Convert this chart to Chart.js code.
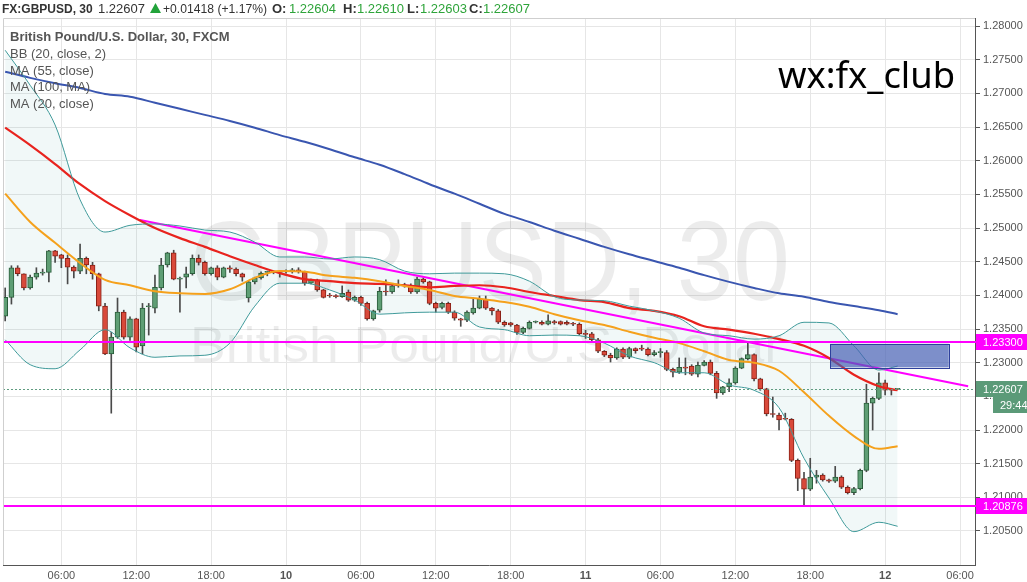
<!DOCTYPE html>
<html>
<head>
<meta charset="utf-8">
<title>GBPUSD 30</title>
<script src="https://cdn.jsdelivr.net/npm/chart.js@4.4.1/dist/chart.umd.min.js"></script>
<style>
  html, body { margin: 0; padding: 0; background: #fff; overflow: hidden; }
  canvas { display: block; }
</style>
</head>
<body>
<canvas id="myChart" width="1027" height="582"></canvas>
<script>

// 30 min candles, first bar 9th 01:30, last bar 12th 01:00
var opens = [1.2369,1.2397,1.2441,1.2432,1.2411,1.2427,1.2433,1.2434,1.2466,1.2460,
  1.2455,1.2442,1.2436,1.2455,1.2445,1.2432,1.2384,1.2313,1.2338,1.2375,
  1.2338,1.2365,1.2325,1.2383,1.2381,1.2411,1.2445,1.2463,1.2424,1.2427,
  1.2432,1.2455,1.2449,1.2432,1.2441,1.2427,1.2441,1.2439,1.2432,1.2396,
  1.2420,1.2426,1.2434,1.2435,1.2434,1.2435,1.2435,1.2438,1.2435,1.2418,
  1.2423,1.2408,1.2400,1.2399,1.2398,1.2405,1.2393,1.2397,1.2388,1.2365,
  1.2378,1.2406,1.2405,1.2414,1.2415,1.2414,1.2405,1.2424,1.2420,1.2388,
  1.2382,1.2388,1.2375,1.2365,1.2363,1.2374,1.2381,1.2394,1.2381,1.2377,
  1.2360,1.2359,1.2356,1.2345,1.2351,1.2360,1.2360,1.2357,1.2361,1.2361,
  1.2360,1.2358,1.2357,1.2343,1.2343,1.2334,1.2317,1.2311,1.2307,1.2320,
  1.2308,1.2321,1.2321,1.2320,1.2312,1.2315,1.2315,1.2290,1.2286,1.2293,
  1.2295,1.2283,1.2296,1.2301,1.2284,1.2255,1.2264,1.2270,1.2292,1.2306,
  1.2312,1.2276,1.2261,1.2224,1.2222,1.2217,1.2216,1.2155,1.2128,1.2112,
  1.2130,1.2133,1.2126,1.2124,1.2130,1.2115,1.2107,1.2113,1.2140,1.2240,
  1.2247,1.2270,1.2260,1.22604];
var highs = [1.2411,1.2444,1.2444,1.2432,1.2430,1.2441,1.2439,1.2467,1.2467,1.2461,
  1.2460,1.2444,1.2476,1.2457,1.2449,1.2433,1.2388,1.2345,1.2396,1.2378,
  1.2368,1.2366,1.2388,1.2388,1.2430,1.2455,1.2464,1.2467,1.2427,1.2442,
  1.2460,1.2460,1.2451,1.2442,1.2444,1.2442,1.2444,1.2441,1.2433,1.2421,
  1.2427,1.2435,1.2436,1.2436,1.2436,1.2438,1.2440,1.2441,1.2436,1.2424,
  1.2424,1.2409,1.2403,1.2401,1.2414,1.2408,1.2399,1.2399,1.2390,1.2378,
  1.2412,1.2423,1.2418,1.2423,1.2418,1.2417,1.2427,1.2426,1.2421,1.2390,
  1.2390,1.2390,1.2377,1.2366,1.2377,1.2396,1.2399,1.2399,1.2382,1.2379,
  1.2362,1.2360,1.2357,1.2353,1.2362,1.2362,1.2362,1.2371,1.2363,1.2362,
  1.2362,1.2360,1.2359,1.2348,1.2345,1.2336,1.2318,1.2314,1.2322,1.2322,
  1.2323,1.2322,1.2326,1.2322,1.2318,1.2321,1.2318,1.2292,1.2307,1.2307,
  1.2297,1.2301,1.2303,1.2304,1.2287,1.2265,1.2276,1.2294,1.2307,1.2330,
  1.2313,1.2277,1.2262,1.2249,1.2225,1.2225,1.2217,1.2157,1.2137,1.2158,
  1.2140,1.2135,1.2127,1.2146,1.2132,1.2117,1.2115,1.2142,1.2268,1.2249,
  1.2285,1.2274,1.2262,1.22610];
var lows = [1.2362,1.2387,1.2429,1.2408,1.2409,1.2424,1.2430,1.2420,1.2449,1.2441,
  1.2417,1.2426,1.2432,1.2432,1.2424,1.2377,1.2312,1.2225,1.2336,1.2335,
  1.2333,1.2316,1.2313,1.2341,1.2374,1.2408,1.2442,1.2423,1.2375,1.2411,
  1.2430,1.2445,1.2430,1.2430,1.2423,1.2426,1.2434,1.2429,1.2421,1.2390,
  1.2417,1.2424,1.2429,1.2432,1.2427,1.2433,1.2433,1.2433,1.2415,1.2417,
  1.2406,1.2396,1.2397,1.2396,1.2397,1.2391,1.2391,1.2385,1.2363,1.2363,
  1.2375,1.2400,1.2403,1.2412,1.2412,1.2403,1.2403,1.2418,1.2386,1.2375,
  1.2380,1.2373,1.2363,1.2354,1.2361,1.2372,1.2380,1.2379,1.2371,1.2358,
  1.2354,1.2354,1.2342,1.2343,1.2350,1.2359,1.2356,1.2356,1.2357,1.2356,
  1.2356,1.2355,1.2341,1.2336,1.2331,1.2315,1.2309,1.2301,1.2305,1.2306,
  1.2306,1.2314,1.2318,1.2310,1.2310,1.2308,1.2288,1.2279,1.2284,1.2282,
  1.2281,1.2279,1.2295,1.2282,1.2247,1.2253,1.2257,1.2268,1.2291,1.2304,
  1.2273,1.2259,1.2221,1.2219,1.2200,1.2215,1.2153,1.2110,1.20876,1.2110,
  1.2121,1.2124,1.2122,1.2122,1.2113,1.2105,1.2104,1.2111,1.2138,1.2200,
  1.2245,1.2252,1.2252,1.22603];
var closes = [1.2397,1.2441,1.2432,1.2411,1.2427,1.2433,1.2434,1.2466,1.2458,1.2455,
  1.2442,1.2436,1.2455,1.2445,1.2432,1.2384,1.2313,1.2338,1.2375,1.2338,
  1.2365,1.2323,1.2381,1.2384,1.2412,1.2445,1.2463,1.2424,1.2425,1.2432,
  1.2455,1.2449,1.2432,1.2441,1.2427,1.2441,1.2439,1.2432,1.2427,1.2420,
  1.2426,1.2433,1.2435,1.2434,1.2435,1.2436,1.2438,1.2435,1.2418,1.2423,
  1.2408,1.2397,1.2399,1.2398,1.2403,1.2393,1.2397,1.2388,1.2365,1.2377,
  1.2406,1.2405,1.2414,1.2415,1.2414,1.2405,1.2424,1.2420,1.2388,1.2381,
  1.2388,1.2375,1.2366,1.2363,1.2375,1.2381,1.2394,1.2381,1.2377,1.2360,
  1.2356,1.2356,1.2345,1.2351,1.2360,1.2361,1.2357,1.2362,1.2359,1.2357,
  1.2357,1.2357,1.2343,1.2342,1.2334,1.2317,1.2311,1.2307,1.2320,1.2308,
  1.2321,1.2318,1.2320,1.2312,1.2315,1.2316,1.2290,1.2286,1.2293,1.2292,
  1.2283,1.2296,1.2301,1.2284,1.2255,1.2264,1.2270,1.2292,1.2306,1.2312,
  1.2276,1.2261,1.2224,1.2223,1.2215,1.2216,1.2155,1.2128,1.2112,1.2130,
  1.2133,1.2126,1.2124,1.2130,1.2115,1.2107,1.2113,1.2140,1.2240,1.2247,
  1.2270,1.2259,1.2259,1.22607];

// indicator lines (last point on the last bar)
var lineBars = [0,4,8,12,16,20,24,28,32,36,40,44,48,52,56,60,64,68,72,76,80,84,88,92,96,100,104,108,112,116,120,124,128,132,136,140,143];
var ma100 = [1.2732,1.2723,1.2715,1.2708,1.2699,1.2695,1.2686,1.2677,1.2668,1.2659,1.2649,1.2638,1.2628,1.2617,1.2605,1.2594,1.2580,1.2565,1.2551,1.2536,
  1.2521,1.2509,1.2496,1.2484,1.2472,1.2461,1.2451,1.2441,1.2430,1.2420,1.2411,1.2403,1.2398,1.2390,1.2384,1.2378,1.2372];
var ma55 = [1.2649,1.2623,1.2595,1.2565,1.2540,1.2519,1.2500,1.2485,1.2472,1.2458,1.2445,1.2433,1.2424,1.2421,1.2418,1.2417,1.2415,1.2412,1.2414,1.2415,
  1.2412,1.2405,1.2399,1.2393,1.2390,1.2381,1.2377,1.2369,1.2354,1.2349,1.2343,1.2335,1.2325,1.2307,1.2282,1.2265,1.2259];
var ma20 = [1.2551,1.2509,1.2478,1.2448,1.2423,1.2415,1.2406,1.2403,1.2402,1.2409,1.2426,1.2436,1.2435,1.2429,1.2426,1.2421,1.2414,1.2408,1.2399,1.2395,
  1.2390,1.2383,1.2372,1.2363,1.2356,1.2346,1.2337,1.2329,1.2317,1.2304,1.2300,1.2288,1.2256,1.2221,1.2191,1.2172,1.2176];
var bbUpper = [1.2764,1.2712,1.2653,1.2542,1.2494,1.2504,1.2506,1.2503,1.2497,1.2494,1.2479,1.2457,1.2457,1.2454,1.2457,1.2453,1.2436,1.2432,1.2433,1.2433,
  1.2432,1.2421,1.2398,1.2393,1.2392,1.2384,1.2377,1.2366,1.2344,1.2340,1.2335,1.2340,1.2360,1.2359,1.2325,1.2289,1.2295];
var bbLower = [1.2334,1.2297,1.2291,1.2319,1.2349,1.2322,1.2308,1.2310,1.2311,1.2329,1.2384,1.2418,1.2418,1.2408,1.2393,1.2372,1.2374,1.2375,1.2375,1.2353,
  1.2349,1.2340,1.2341,1.2340,1.2329,1.2310,1.2300,1.2285,1.2285,1.2267,1.2259,1.2233,1.2158,1.2099,1.2049,1.2063,1.2057];

// drawings on the chart
var levels = [1.23300, 1.20876];
var trendBars = [21.6, 154.3];
var trendPrices = [1.2512, 1.2265];
var zoneBars = [132.2, 151.2];
var zonePrices = [1.2293, 1.2328];

// axes
var xTickLabels = ['06:00','12:00','18:00','10','06:00','12:00','18:00','11','06:00','12:00','18:00','12','06:00'];
var firstTickBar = 9, barsPerTick = 12;
var yTicks = [1.205,1.21,1.215,1.22,1.225,1.23,1.235,1.24,1.245,1.25,1.255,1.26,1.265,1.27,1.275,1.28];

var FONT = '"Liberation Sans", Arial, sans-serif';
var last = closes.length - 1;

function pts(xs, ys) {
  return ys.map(function (v, k) { return { x: xs[k], y: v }; });
}

var bodies = [], wicks = [], fills = [], edges = [];
for (var i = 0; i < closes.length; i++) {
  var up = closes[i] >= opens[i];
  bodies.push({ x: i, y: [opens[i], closes[i]] });
  wicks.push({ x: i, y: [lows[i], highs[i]] });
  fills.push(up ? '#5e9e74' : '#d9493a');
  edges.push(up ? '#2b5d3b' : '#8a2116');
}

function fitText(c, text, font, x, y, width) {
  c.font = font;
  var w = c.measureText(text).width;
  c.save();
  c.translate(x, y);
  c.scale(width / w, 1);
  c.fillText(text, 0, 0);
  c.restore();
}

function axisBox(c, text, y, bg, x0) {
  c.fillStyle = bg;
  c.fillRect(x0, Math.round(y) - 8, 1027 - x0, 16);
  c.fillStyle = '#fff';
  c.font = '11px ' + FONT;
  c.textBaseline = 'middle';
  c.fillText(text, x0 + 7, Math.round(y) + 0.5);
}

var overlay = {
  id: 'overlay',
  beforeDatasetsDraw: function (chart) {
    var c = chart.ctx, a = chart.chartArea;
    c.save();
    c.beginPath();
    c.rect(a.left, a.top, a.right - a.left, a.bottom - a.top);
    c.clip();
    c.fillStyle = 'rgba(0,0,0,0.075)';
    c.textBaseline = 'alphabetic';
    fitText(c, 'GBPUSD, 30', '114px ' + FONT, 190, 300, 600);
    fitText(c, 'British Pound/U.S. Dollar', '50px ' + FONT, 190, 362, 592);
    c.restore();
  },
  afterDatasetsDraw: function (chart) {
    var c = chart.ctx, a = chart.chartArea, xs = chart.scales.x, ys = chart.scales.y;
    c.save();
    // last price line
    var yc = Math.round(ys.getPixelForValue(closes[last])) + 0.5;
    c.strokeStyle = '#5f9c80';
    c.lineWidth = 1;
    c.setLineDash([2, 2]);
    c.beginPath(); c.moveTo(a.left, yc); c.lineTo(a.right, yc); c.stroke();
    c.setLineDash([]);
    // horizontal levels
    c.strokeStyle = '#ff00ff';
    c.lineWidth = 2;
    levels.forEach(function (v) {
      var y = Math.round(ys.getPixelForValue(v));
      c.beginPath(); c.moveTo(a.left, y); c.lineTo(a.right + 5, y); c.stroke();
    });
    // zone rectangle
    var x0 = xs.getPixelForValue(zoneBars[0]), x1 = xs.getPixelForValue(zoneBars[1]);
    var y0 = ys.getPixelForValue(zonePrices[1]), y1 = ys.getPixelForValue(zonePrices[0]);
    c.fillStyle = 'rgba(70,95,180,0.7)';
    c.fillRect(x0, y0, x1 - x0, y1 - y0);
    c.strokeStyle = '#2e409c';
    c.lineWidth = 1;
    c.strokeRect(Math.round(x0) + 0.5, Math.round(y0) + 0.5, Math.round(x1 - x0), Math.round(y1 - y0));
    c.restore();
  },
  afterDraw: function (chart) {
    var c = chart.ctx, a = chart.chartArea, ys = chart.scales.y;
    c.save();
    // frame top and left
    c.strokeStyle = '#cfcfcf';
    c.lineWidth = 1;
    c.beginPath();
    c.moveTo(a.left + 0.5, a.bottom); c.lineTo(a.left + 0.5, a.top + 0.5); c.lineTo(a.right, a.top + 0.5);
    c.stroke();

    // header
    c.textBaseline = 'alphabetic';
    c.fillStyle = '#333';
    c.font = 'bold 12px ' + FONT;
    c.fillText('FX:GBPUSD, 30', 2, 13);
    c.font = '13px ' + FONT;
    c.fillText(closes[last].toFixed(5), 98, 13);
    c.fillStyle = '#22a33a';
    c.beginPath(); c.moveTo(150, 13); c.lineTo(161, 13); c.lineTo(155.5, 3); c.closePath(); c.fill();
    c.fillStyle = '#333';
    fitText(c, '+0.01418 (+1.17%)', '13px ' + FONT, 163, 13, 104);
    var ohlc = [['O:', opens[last], 272, 289], ['H:', highs[last], 343, 357], ['L:', lows[last], 407, 420], ['C:', closes[last], 469, 483]];
    ohlc.forEach(function (p) {
      c.font = 'bold 13px ' + FONT;
      c.fillStyle = '#333';
      c.fillText(p[0], p[2], 13);
      c.font = '13px ' + FONT;
      c.fillStyle = '#2ea43a';
      c.fillText(p[1].toFixed(5), p[3], 13);
    });

    // legend
    c.fillStyle = '#555';
    c.font = 'bold 13px ' + FONT;
    c.fillText('British Pound/U.S. Dollar, 30, FXCM', 10, 41);
    c.font = '13px ' + FONT;
    c.fillText('BB (20, close, 2)', 10, 58);
    c.fillText('MA (55, close)', 10, 75);
    c.fillText('MA (100, MA)', 10, 91);
    c.fillText('MA (20, close)', 10, 108);

    // tag
    c.fillStyle = '#000';
    fitText(c, 'wx:fx_club', '37px "Noto Sans", ' + FONT, 778, 88, 177);

    // price boxes on the axis
    levels.forEach(function (v) {
      axisBox(c, v.toFixed(5), ys.getPixelForValue(v), '#ff00ff', a.right + 1);
    });
    var yc = ys.getPixelForValue(closes[last]);
    axisBox(c, closes[last].toFixed(5), yc, '#5b9a78', a.right + 1);
    axisBox(c, '29:44', yc + 16, '#5b9a78', a.right + 18);
    c.restore();
  }
};

var ctx = document.getElementById('myChart').getContext('2d');

var chart = new Chart(ctx, {
  type: 'bar',
  data: {
    datasets: [
      { type: 'line', label: 'BB upper', data: pts(lineBars, bbUpper), borderColor: '#3f9a9a', borderWidth: 1,
        pointRadius: 0, cubicInterpolationMode: 'monotone', fill: '+1', backgroundColor: 'rgba(60,160,160,0.07)', order: 0 },
      { type: 'line', label: 'BB lower', data: pts(lineBars, bbLower), borderColor: '#3f9a9a', borderWidth: 1,
        pointRadius: 0, cubicInterpolationMode: 'monotone', fill: false, order: 0 },
      { type: 'line', label: 'MA 20', data: pts(lineBars, ma20), borderColor: '#f5a11c', borderWidth: 2,
        pointRadius: 0, cubicInterpolationMode: 'monotone', fill: false, order: 0 },
      { type: 'line', label: 'MA 55', data: pts(lineBars, ma55), borderColor: '#e8231e', borderWidth: 2.2,
        pointRadius: 0, cubicInterpolationMode: 'monotone', fill: false, order: 0 },
      { type: 'line', label: 'MA 100', data: pts(lineBars, ma100), borderColor: '#3a56b0', borderWidth: 2,
        pointRadius: 0, cubicInterpolationMode: 'monotone', fill: false, order: 0 },
      { type: 'line', label: 'Trend', data: pts(trendBars, trendPrices), borderColor: '#ff00ff', borderWidth: 2,
        pointRadius: 0, tension: 0, fill: false, order: 0 },
      { label: 'Body', data: bodies, backgroundColor: fills, borderColor: edges, borderWidth: 1,
        borderSkipped: false, barThickness: 5, minBarLength: 1, grouped: false, order: 1 },
      { label: 'Wick', data: wicks, backgroundColor: '#4a4a4a', borderWidth: 0,
        barThickness: 1, grouped: false, order: 2 }
    ]
  },
  options: {
    responsive: false,
    animation: false,
    layout: { padding: { top: 18, left: 3, right: 0, bottom: 0 } },
    plugins: {
      legend: { display: false },
      tooltip: { enabled: false },
      filler: { drawTime: 'beforeDatasetsDraw' }
    },
    scales: {
      x: {
        type: 'linear',
        min: -0.35,
        max: 155.4,
        offset: false,
        afterBuildTicks: function (s) {
          s.ticks = xTickLabels.map(function (l, k) { return { value: firstTickBar + k * barsPerTick }; });
        },
        afterFit: function (s) { s.height = 17; },
        grid: { color: '#e6e6e6', drawTicks: false, offset: false },
        border: { display: true, color: '#555' },
        ticks: {
          autoSkip: false,
          maxRotation: 0,
          padding: 4,
          color: '#555',
          font: function (c) {
            var l = xTickLabels[c.index] || '';
            return { family: '"Liberation Sans Narrow", ' + FONT, size: 11, weight: l.length < 3 ? 'bold' : 'normal' };
          },
          callback: function (v) { return xTickLabels[Math.round((v - firstTickBar) / barsPerTick)]; }
        }
      },
      y: {
        position: 'right',
        min: 1.19995,
        max: 1.28119,
        afterBuildTicks: function (s) {
          s.ticks = yTicks.map(function (v) { return { value: v }; });
        },
        afterFit: function (s) { s.width = 52; },
        grid: { color: '#e6e6e6', tickLength: 5, tickColor: '#555' },
        border: { display: true, color: '#555' },
        ticks: {
          autoSkip: false,
          padding: 3,
          color: '#555',
          font: { family: FONT, size: 11 },
          callback: function (v) { return Number(v).toFixed(5); }
        }
      }
    }
  },
  plugins: [overlay]
});
</script>
</body>
</html>
